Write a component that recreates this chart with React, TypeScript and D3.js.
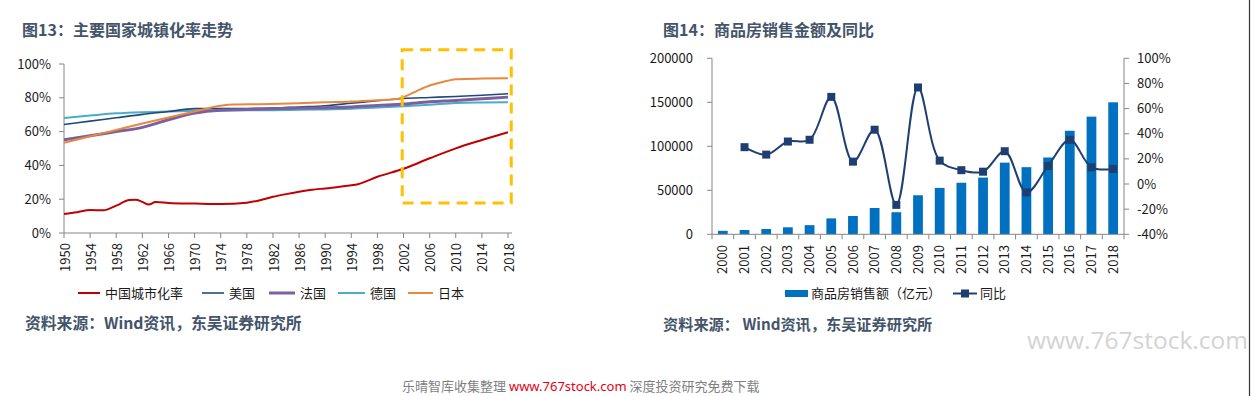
import React from "react";
import * as d3 from "d3";

// ---------- Figure 13 data (urbanization rate, %) ----------
const chinaPts: [number, number][] = [
  [1950, 11.2], [1952, 12.3], [1954, 13.6], [1956, 13.4], [1958, 16.2], [1960, 19.5], [1961, 19.7],
  [1962, 18.4], [1963, 16.8], [1964, 18.3], [1966, 17.8], [1970, 17.4], [1974, 17.1], [1978, 17.9],
  [1980, 19.4], [1982, 21.4], [1984, 23.0], [1986, 24.4], [1988, 25.6], [1990, 26.4], [1994, 28.2],
  [1995, 28.9], [1998, 33.3], [2002, 38.0], [2006, 44.2], [2010, 50.1], [2014, 55.0], [2018, 59.6],
];
const usPts: [number, number][] = [
  [1950, 64.2], [1954, 66.2], [1958, 68.2], [1962, 70.2], [1966, 71.9], [1970, 73.6], [1974, 73.7],
  [1978, 73.7], [1982, 73.9], [1986, 74.6], [1990, 75.3], [1994, 76.8], [1998, 78.3], [2002, 79.6],
  [2006, 80.2], [2010, 80.8], [2014, 81.5], [2018, 82.4],
];
const francePts: [number, number][] = [
  [1950, 55.2], [1954, 57.5], [1958, 60.0], [1962, 62.5], [1966, 67.0], [1970, 71.0], [1974, 72.7],
  [1978, 73.1], [1982, 73.5], [1986, 73.9], [1990, 74.1], [1994, 74.6], [1998, 75.5], [2002, 76.3],
  [2006, 77.6], [2010, 78.4], [2014, 79.4], [2018, 80.4],
];
const germanyPts: [number, number][] = [
  [1950, 68.1], [1954, 69.5], [1958, 70.8], [1962, 71.5], [1966, 71.9], [1970, 72.3], [1974, 72.5],
  [1978, 72.6], [1982, 72.7], [1986, 72.9], [1990, 73.1], [1994, 73.5], [1998, 74.2], [2002, 75.0],
  [2006, 75.9], [2010, 76.9], [2014, 77.2], [2018, 77.3],
];
const japanPts: [number, number][] = [
  [1950, 53.4], [1954, 57.2], [1958, 61.0], [1962, 64.8], [1966, 68.4], [1970, 71.9], [1974, 75.3],
  [1976, 76.0], [1980, 76.2], [1986, 76.8], [1990, 77.3], [1994, 77.8], [1998, 78.6], [2001, 79.3],
  [2002, 80.4], [2004, 84.0], [2006, 87.3], [2008, 89.3], [2010, 91.0], [2014, 91.4], [2018, 91.6],
];
const leftSeriesNames = ["中国城市化率", "美国", "法国", "德国", "日本"];
const leftYearTicks = d3.range(1950, 2019, 4);
const leftPctTicks = [0, 20, 40, 60, 80, 100];

// ---------- Figure 14 data ----------
const salesYears = [2000, 2001, 2002, 2003, 2004, 2005, 2006, 2007, 2008, 2009, 2010, 2011, 2012, 2013, 2014, 2015, 2016, 2017, 2018];
const salesAmount = [3935, 4863, 6032, 7956, 10376, 18080, 20826, 29889, 25068, 44355, 52721, 58589, 64456, 81428, 76292, 87281, 117627, 133701, 149973];
const salesYoY = [null, 29.3, 23.4, 33.8, 35.2, 69.3, 17.8, 43.2, -16.6, 76.8, 18.6, 11.0, 9.8, 26.1, -6.7, 14.4, 35.2, 13.3, 12.0];
const leftAmountTicks = [0, 50000, 100000, 150000, 200000];
const rightPctTicks = [-40, -20, 0, 20, 40, 60, 80, 100];
const rightLegend = ["商品房销售额（亿元）", "同比"];

const FONT = "'Noto Sans CJK SC', 'Noto Sans', sans-serif";
const AXIS = "#868686";
const TXT = "#1a1a1a";
const TITLE = "#44546a";

export default function App() {
  // ----- left chart scales -----
  const lx = d3.scaleLinear().domain([1950, 2018]).range([64, 508]);
  const ly = d3.scaleLinear().domain([0, 100]).range([233, 64]);
  const lLine = d3
    .line<[number, number]>()
    .x((d) => lx(d[0]))
    .y((d) => ly(d[1]))
    .curve(d3.curveMonotoneX);

  const leftSeries = [
    { name: leftSeriesNames[0], pts: chinaPts, color: "#C00000", w: 2 },
    { name: leftSeriesNames[1], pts: usPts, color: "#1F497D", w: 1.6 },
    { name: leftSeriesNames[2], pts: francePts, color: "#7B5FA0", w: 3 },
    { name: leftSeriesNames[3], pts: germanyPts, color: "#4BACC6", w: 2 },
    { name: leftSeriesNames[4], pts: japanPts, color: "#E8883C", w: 2 },
  ];
  const drawOrder = [3, 1, 2, 4, 0];
  const leftLegendX = [78, 202, 269, 338, 408];
  const leftLegendW = [22, 22, 26, 27, 25];

  // ----- right chart scales -----
  const bx = d3
    .scaleBand<number>()
    .domain(salesYears)
    .range([712, 1124])
    .paddingInner(0.55)
    .paddingOuter(0.275);
  const by = d3.scaleLinear().domain([0, 200000]).range([234.3, 58.3]);
  const ry = d3.scaleLinear().domain([-40, 100]).range([234.3, 58.3]);
  const step = bx.step();
  const cx = (yr: number) => (bx(yr) as number) + bx.bandwidth() / 2;
  const yoyPts = salesYears
    .map((yr, i) => ({ yr, v: salesYoY[i] }))
    .filter((d) => d.v !== null) as { yr: number; v: number }[];
  const rLine = d3
    .line<{ yr: number; v: number }>()
    .x((d) => cx(d.yr))
    .y((d) => ry(d.v))
    .curve(d3.curveCatmullRom.alpha(0.5));

  const BAR = "#0070C0";
  const NAVY = "#1F3F73";

  return (
    <svg
      width={1251}
      height={396}
      style={{ position: "absolute", left: 0, top: 0, background: "#fff" }}
      fontFamily={FONT}
    >
      <rect x={0} y={0} width={1251} height={396} fill="#fff" />

      {/* ===== Left chart ===== */}
      <text x={22} y={36} fontSize={16} fontWeight="bold" fill={TITLE}>
        图13：主要国家城镇化率走势
      </text>

      {/* y axis */}
      <line x1={64} x2={64} y1={ly(100)} y2={ly(0)} stroke={AXIS} strokeWidth={1} />
      {leftPctTicks.map((t) => (
        <g key={"lyt" + t}>
          <line x1={59} x2={64} y1={ly(t)} y2={ly(t)} stroke={AXIS} />
          <text x={51} y={ly(t)} dy="0.35em" fontSize={13} textAnchor="end" fill={TXT}>
            {t}%
          </text>
        </g>
      ))}
      {/* x axis */}
      <line x1={64} x2={512} y1={ly(0)} y2={ly(0)} stroke={AXIS} />
      {leftYearTicks.map((t) => (
        <g key={"lxt" + t}>
          <line x1={lx(t)} x2={lx(t)} y1={ly(0)} y2={ly(0) + 5} stroke={AXIS} />
          <text
            transform={`translate(${lx(t) + 1},${243}) rotate(-90)`}
            dy="0.35em"
            fontSize={13}
            textAnchor="end"
            fill={TXT}
          >
            {t}
          </text>
        </g>
      ))}

      {/* lines */}
      {drawOrder.map((i) => {
        const s = leftSeries[i];
        return (
          <path
            key={s.name}
            d={lLine(s.pts) as string}
            fill="none"
            stroke={s.color}
            strokeWidth={s.w}
            strokeLinejoin="round"
          />
        );
      })}

      {/* highlight box */}
      <rect
        x={lx(2001.8)}
        y={ly(108.5)}
        width={lx(2018.5) - lx(2001.8)}
        height={ly(17.8) - ly(108.5)}
        fill="none"
        stroke="#FFC000"
        strokeWidth={3}
        strokeDasharray="11,7"
      />

      {/* legend */}
      {leftSeries.map((s, i) => (
        <g key={"lg" + i}>
          <line
            x1={leftLegendX[i]}
            x2={leftLegendX[i] + leftLegendW[i]}
            y1={293}
            y2={293}
            stroke={s.color}
            strokeWidth={s.w}
          />
          <text x={leftLegendX[i] + leftLegendW[i] + 5} y={293} dy="0.36em" fontSize={13} fill={TXT}>
            {s.name}
          </text>
        </g>
      ))}

      <text x={25} y={329} fontSize={15.8} fontWeight="bold" fill={TITLE}>
        资料来源：Wind资讯，东吴证券研究所
      </text>

      {/* ===== Right chart ===== */}
      <text x={663} y={36} fontSize={16} fontWeight="bold" fill={TITLE}>
        图14：商品房销售金额及同比
      </text>

      {/* bars */}
      {salesYears.map((yr, i) => (
        <rect
          key={"bar" + yr}
          x={bx(yr)}
          y={by(salesAmount[i])}
          width={bx.bandwidth()}
          height={by(0) - by(salesAmount[i])}
          fill={BAR}
        />
      ))}

      {/* left y axis */}
      <line x1={712} x2={712} y1={by(200000)} y2={by(0)} stroke={AXIS} />
      {leftAmountTicks.map((t) => (
        <g key={"byt" + t}>
          <line x1={707} x2={712} y1={by(t)} y2={by(t)} stroke={AXIS} />
          <text x={693} y={by(t)} dy="0.35em" fontSize={13} textAnchor="end" fill={TXT}>
            {t}
          </text>
        </g>
      ))}
      {/* right y axis */}
      <line x1={1124} x2={1124} y1={ry(100)} y2={ry(-40)} stroke={AXIS} />
      {rightPctTicks.map((t) => (
        <g key={"ryt" + t}>
          <line x1={1124} x2={1129} y1={ry(t)} y2={ry(t)} stroke={AXIS} />
          <text x={1137} y={ry(t)} dy="0.35em" fontSize={13} textAnchor="start" fill={TXT}>
            {t}%
          </text>
        </g>
      ))}
      {/* x axis */}
      <line x1={712} x2={1124} y1={by(0)} y2={by(0)} stroke={AXIS} />
      {d3.range(0, salesYears.length + 1).map((i) => (
        <line
          key={"bxt" + i}
          x1={712 + i * step}
          x2={712 + i * step}
          y1={by(0)}
          y2={by(0) + 5}
          stroke={AXIS}
        />
      ))}
      {salesYears.map((yr) => (
        <text
          key={"bxl" + yr}
          transform={`translate(${cx(yr)},${245}) rotate(-90)`}
          dy="0.35em"
          fontSize={13}
          textAnchor="end"
          fill={TXT}
        >
          {yr}
        </text>
      ))}

      {/* yoy line */}
      <path d={rLine(yoyPts) as string} fill="none" stroke={NAVY} strokeWidth={2} />
      {yoyPts.map((d) => (
        <rect key={"m" + d.yr} x={cx(d.yr) - 4} y={ry(d.v) - 4} width={8} height={8} fill={NAVY} />
      ))}

      {/* legend */}
      <rect x={785} y={290} width={23} height={7} fill={BAR} />
      <text x={811} y={293.5} dy="0.36em" fontSize={13} fill={TXT}>
        {rightLegend[0]}
      </text>
      <line x1={953} x2={977} y1={293.5} y2={293.5} stroke={NAVY} strokeWidth={2} />
      <rect x={961} y={289.5} width={8} height={8} fill={NAVY} />
      <text x={980} y={293.5} dy="0.36em" fontSize={13} fill={TXT}>
        {rightLegend[1]}
      </text>

      <text x={663} y={329.5} fontSize={15.2} fontWeight="bold" fill={TITLE}>
        资料来源： Wind资讯，东吴证券研究所
      </text>

      {/* watermark */}
      <text
        x={1027}
        y={349}
        fontSize={24}
        fontFamily="'Open Sans', 'Noto Sans', sans-serif"
        fill="#d3d3d3"
        textLength={221}
        lengthAdjust="spacingAndGlyphs"
      >
        www.767stock.com
      </text>

      {/* footer */}
      <text x={402} y={391} fontSize={13} fill="#7f7f7f">
        乐晴智库收集整理 <tspan fill="#e60012" fontFamily="'Noto Sans', sans-serif">www.767stock.com</tspan> 深度投资研究免费下载
      </text>

      {/* right border */}
      <line x1={1249.5} x2={1249.5} y1={0} y2={396} stroke="#333" strokeWidth={1.2} />
    </svg>
  );
}
